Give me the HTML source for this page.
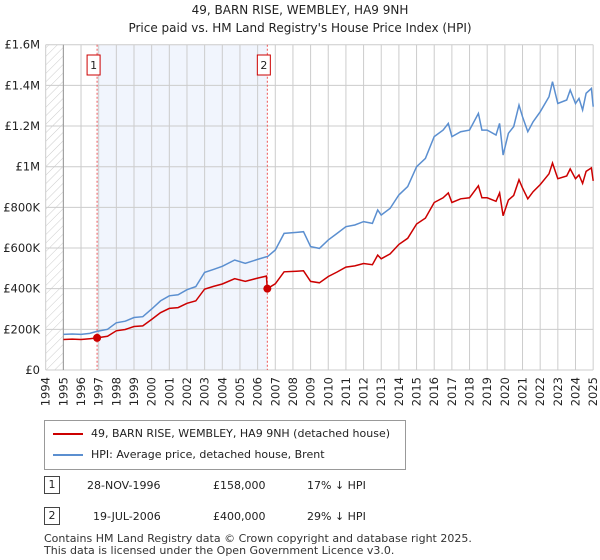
<!DOCTYPE html>
<html><head><meta charset="utf-8"><style>
body{margin:0;width:600px;height:560px;background:#fff;font-family:"DejaVu Sans","Liberation Sans",sans-serif;overflow:hidden;position:relative}
.t{position:absolute;color:#222}
</style></head><body>
<div class="t" style="left:0;width:600px;text-align:center;top:1px;font-size:12px;line-height:18px">49, BARN RISE, WEMBLEY, HA9 9NH<br>Price paid vs. HM Land Registry's House Price Index (HPI)</div>
<svg id="c" width="600" height="410" style="position:absolute;left:0;top:0;font-family:'DejaVu Sans',sans-serif">
<defs><pattern id="h" width="6" height="6" patternUnits="userSpaceOnUse" patternTransform="rotate(45)"><line x1="0" y1="0" x2="0" y2="6" stroke="#ccc" stroke-width="1"/></pattern></defs>
</svg>
<div style="position:absolute;left:44px;top:420px;width:360px;height:48px;border:1px solid #999;font-size:11px;color:#222">
<div style="position:absolute;left:8px;top:6px;white-space:nowrap"><span style="display:inline-block;width:30px;height:2px;background:#c00;vertical-align:middle;margin-right:8px"></span>49, BARN RISE, WEMBLEY, HA9 9NH (detached house)</div>
<div style="position:absolute;left:8px;top:27px;white-space:nowrap"><span style="display:inline-block;width:30px;height:2px;background:#5b8fd0;vertical-align:middle;margin-right:8px"></span>HPI: Average price, detached house, Brent</div>
</div>
<div style="position:absolute;top:476px;left:0;font-size:11px;color:#222">
<span style="position:absolute;left:44px;top:0;width:14px;height:16px;border:1px solid #444;text-align:center;line-height:16px">1</span>
<span style="position:absolute;left:87px;top:3px;white-space:nowrap">28-NOV-1996</span>
<span style="position:absolute;left:213px;top:3px">£158,000</span>
<span style="position:absolute;left:307px;top:3px;white-space:nowrap">17% ↓ HPI</span></div>
<div style="position:absolute;top:507px;left:0;font-size:11px;color:#222">
<span style="position:absolute;left:44px;top:0;width:14px;height:16px;border:1px solid #444;text-align:center;line-height:16px">2</span>
<span style="position:absolute;left:93px;top:3px;white-space:nowrap">19-JUL-2006</span>
<span style="position:absolute;left:213px;top:3px">£400,000</span>
<span style="position:absolute;left:307px;top:3px;white-space:nowrap">29% ↓ HPI</span></div>
<div class="t" style="left:44px;top:533px;font-size:11px;line-height:12px;color:#333;white-space:nowrap">Contains HM Land Registry data © Crown copyright and database right 2025.<br>This data is licensed under the Open Government Licence v3.0.</div>
<script>
const years=[1995,1995.5,1996,1996.5,1996.9,1997.5,1998,1998.5,1999,1999.5,2000,2000.5,2001,2001.5,2002,2002.5,2003,2003.5,2004,2004.7,2005.3,2006,2006.5,2006.55,2007,2007.5,2008.2,2008.6,2009,2009.5,2010,2010.5,2011,2011.5,2012,2012.5,2012.8,2013,2013.5,2014,2014.5,2015,2015.5,2016,2016.5,2016.8,2017,2017.5,2018,2018.5,2018.7,2019,2019.5,2019.7,2019.9,2020.2,2020.5,2020.8,2021,2021.3,2021.6,2022,2022.5,2022.7,2023,2023.5,2023.7,2024,2024.2,2024.4,2024.6,2024.9,2025];
const hpi=[175,177,175,180,190,200,232,240,258,262,300,340,365,370,395,410,480,495,510,541,525,544,557,557,590,672,677,680,607,598,640,672,705,713,730,721,787,762,795,861,902,1000,1041,1148,1180,1213,1148,1172,1180,1262,1180,1180,1156,1213,1057,1164,1197,1303,1246,1172,1221,1270,1344,1418,1311,1328,1377,1311,1336,1279,1361,1385,1295];
const paid=[150,152,150,154,158,166,193,199,214,217,249,282,303,307,328,340,398,411,423,449,436,452,462,400,424,483,486,488,436,429,460,482,506,512,524,518,565,547,571,618,648,718,747,824,847,871,824,842,847,906,847,847,830,871,759,836,859,936,895,842,877,912,965,1018,941,954,989,941,959,918,977,994,930];
const yTicks=[0,200,400,600,800,1000,1200,1400,1600];
const yLabels=["£0","£200K","£400K","£600K","£800K","£1M","£1.2M","£1.4M","£1.6M"];
const xYears=[1994,1995,1996,1997,1998,1999,2000,2001,2002,2003,2004,2005,2006,2007,2008,2009,2010,2011,2012,2013,2014,2015,2016,2017,2018,2019,2020,2021,2022,2023,2024,2025];
const sales=[{n:"1",yr:1996.91,v:158},{n:"2",yr:2006.55,v:400}];
const X0=45.7,PY=17.66,Y0=370,PK=(370-44.7)/1600;
const x=y=>X0+(y-1994)*PY, y=v=>Y0-v*PK;
const s=document.getElementById('c'),NS='http://www.w3.org/2000/svg';
function mk(t,a){const e=document.createElementNS(NS,t);for(const k in a)e.setAttribute(k,a[k]);s.appendChild(e);return e;}
let e=mk('rect',{x:x(sales[0].yr),y:y(1600),width:x(sales[1].yr)-x(sales[0].yr),height:Y0-y(1600),fill:'#f1f5fd'});


e=mk('rect',{x:x(1994),y:y(1600),width:x(1995)-x(1994),height:Y0-y(1600),fill:'url(#h)'});


yTicks.forEach((v,i)=>{
 let g=mk('line',{x1:x(1994),x2:x(2025),y1:y(v),y2:y(v),stroke:'#ccc'});
 
 
 let t=mk('text',{x:40,y:y(v)+4,'text-anchor':'end','font-size':11.5,fill:'#222'});t.textContent=yLabels[i];
 
 
});
xYears.forEach(yr=>{
 let g=mk('line',{x1:x(yr),x2:x(yr),y1:y(1600),y2:Y0,stroke:'#ccc'});
 
 
 let t=mk('text',{x:0,y:0,'text-anchor':'end','font-size':11.5,fill:'#222',transform:`translate(${x(yr)+4},${Y0+7}) rotate(-90)`});t.textContent=yr;
 
 
});
e=mk('line',{x1:x(1995),x2:x(1995),y1:y(1600),y2:Y0,stroke:'#999'});


sales.forEach(sl=>{
 let l=mk('line',{x1:x(sl.yr),x2:x(sl.yr),y1:y(1600),y2:Y0,stroke:'#e55','stroke-dasharray':'2,2'});
 
 
 let r=mk('rect',{x:x(sl.yr)-10,y:55,width:13,height:20,fill:'#fff',stroke:'#c00'});
 
 
 let t=mk('text',{x:x(sl.yr)-3.5,y:69,'text-anchor':'middle','font-size':11,fill:'#222'});t.textContent=sl.n;
 
 
});
const pts=a=>years.map((yr,i)=>x(yr).toFixed(1)+','+y(a[i]).toFixed(1)).join(' ');
e=mk('polyline',{points:pts(hpi),fill:'none',stroke:'#5b8fd0','stroke-width':1.5});


e=mk('polyline',{points:pts(paid),fill:'none',stroke:'#c00','stroke-width':1.5});


sales.forEach(sl=>{
 let c=mk('circle',{cx:x(sl.yr),cy:y(sl.v),r:4,fill:'#c00'});
 
 
});
</script>
</body></html>
